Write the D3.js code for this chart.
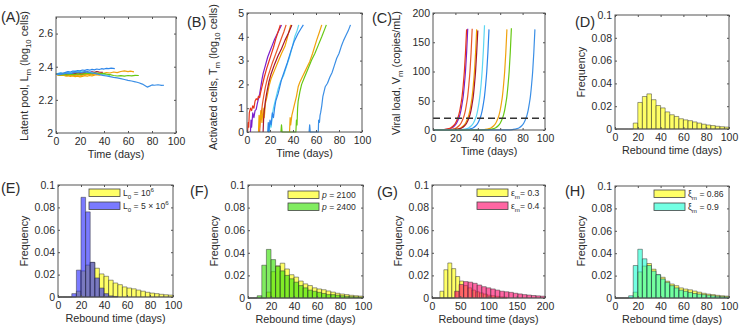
<!DOCTYPE html>
<html>
  <head>
    <meta charset="utf-8">
    <title>Rebound simulations</title>
    <script src="https://cdn.jsdelivr.net/npm/d3@7"></script>
    <style>
      body { margin: 0; background: #fff; }
      svg { font-family: "Liberation Sans", Arial, Helvetica, sans-serif; fill: #2b2b2b; }
      .tick text { font-size: 10.5px; fill: #2b2b2b; }
      .tick line { stroke: #555; }
      .title { font-size: 10.8px; }
      .panelLabel { font-size: 14.5px; }
      .legend text { font-size: 8.6px; }
    </style>
  </head>
  <body>
    <svg id="chart" width="740" height="326"></svg>

    <script>
      // ---- data: ten simulated runs, same order in (A), (B) and (C) ----
      runColors = ["#7b1fcc", "#e6361a", "#e8582a", "#f2a400", "#a5152e",
                   "#5cd6f2", "#2d86ea", "#f0a20c", "#67c814", "#3b8fe6"];

      // (A) latent pool, log10 cells  [day, value]
      latentRuns = [
        [[0,2.355],[2,2.357],[4,2.352],[6,2.356],[8,2.358],[10,2.354],[12,2.359],[14,2.362],[16,2.358],[18,2.363],[20,2.366],[22,2.361],[24,2.367],[26,2.37],[28,2.366],[30,2.368]],
        [[0,2.355],[2,2.351],[4,2.354],[6,2.349],[8,2.352],[10,2.347],[12,2.351],[14,2.348],[16,2.353],[18,2.35],[20,2.355],[22,2.352],[24,2.358],[26,2.356],[29,2.36]],
        [[0,2.355],[2,2.358],[4,2.353],[6,2.349],[8,2.352],[10,2.35],[12,2.354],[14,2.357],[16,2.353],[18,2.356],[20,2.352],[22,2.357],[24,2.361],[26,2.358],[28,2.362],[30,2.36],[32,2.364],[34,2.362]],
        [[0,2.355],[2,2.35],[4,2.347],[6,2.349],[8,2.344],[10,2.346],[12,2.341],[14,2.344],[16,2.34],[18,2.343],[20,2.339],[22,2.342],[24,2.346],[26,2.343],[28,2.347],[30,2.344],[32,2.349],[34,2.352],[36,2.349],[38,2.353]],
        [[0,2.355],[2,2.359],[4,2.356],[6,2.36],[8,2.357],[10,2.361],[12,2.358],[14,2.362],[16,2.36],[18,2.364],[20,2.361],[22,2.366],[24,2.363],[26,2.367],[28,2.365],[30,2.369],[32,2.366],[34,2.37],[36,2.367],[39,2.366]],
        [[0,2.355],[2,2.36],[4,2.363],[6,2.359],[8,2.365],[10,2.368],[12,2.364],[14,2.37],[16,2.373],[18,2.369],[20,2.372],[22,2.368],[24,2.371],[26,2.366],[28,2.369],[30,2.364],[32,2.36],[34,2.362],[36,2.356],[38,2.352],[40,2.355],[42,2.349],[45,2.347]],
        [[0,2.355],[2,2.358],[4,2.362],[6,2.36],[8,2.366],[10,2.37],[12,2.368],[14,2.374],[16,2.372],[18,2.377],[20,2.375],[22,2.38],[24,2.378],[26,2.382],[28,2.379],[30,2.384],[32,2.381],[34,2.386],[36,2.383],[38,2.388],[40,2.386],[42,2.39],[44,2.388],[46,2.391],[49,2.389]],
        [[0,2.355],[3,2.348],[6,2.351],[9,2.345],[12,2.349],[15,2.346],[18,2.351],[21,2.347],[24,2.352],[27,2.355],[30,2.351],[33,2.357],[36,2.361],[39,2.358],[42,2.365],[45,2.362],[48,2.368],[51,2.364],[54,2.371],[57,2.375],[60,2.37],[62,2.373],[65,2.369]],
        [[0,2.355],[3,2.351],[6,2.354],[9,2.35],[12,2.355],[15,2.352],[18,2.357],[21,2.354],[24,2.358],[27,2.361],[30,2.358],[33,2.362],[36,2.357],[39,2.36],[42,2.355],[45,2.352],[48,2.347],[51,2.344],[54,2.346],[57,2.343],[60,2.347],[63,2.345],[66,2.348],[69,2.347]],
        [[0,2.355],[3,2.352],[6,2.357],[9,2.361],[12,2.358],[15,2.364],[18,2.368],[21,2.365],[24,2.37],[27,2.366],[30,2.362],[33,2.358],[36,2.353],[39,2.348],[42,2.344],[45,2.34],[48,2.336],[51,2.333],[54,2.328],[57,2.323],[60,2.318],[63,2.314],[66,2.309],[69,2.303],[72,2.295],[74,2.286],[76,2.277],[78,2.283],[80,2.29],[82,2.288],[85,2.291],[88,2.287],[90,2.288]]
      ];

      // (B) activated cells, log10 cells  [day, value]
      activatedRuns = [
        [[3,0],[3.5,0.5],[4,0.2],[5,0.8],[6,0.6],[7,0.9],[8,0.95],[9,1.2],[10,1.4],[11,1.6],[12,1.9],[13,2.2],[14,2.45],[16,2.8],[18,3.15],[20,3.4],[22,3.65],[24,3.9],[26,4.1],[28,4.3],[30,4.5]],
        [[0.5,0],[1,0.4],[1.5,0.2],[2,0.8],[3,1.0],[4,0.9],[5,1.1],[6,1.0],[7,1.3],[8,1.4],[9,1.35],[10,1.5],[11,1.45],[12,1.7],[13,1.9],[15,2.3],[17,2.65],[19,2.95],[21,3.25],[23,3.55],[25,3.9],[27,4.2],[29,4.5]],
        [[11,0],[11.5,0.5],[12.5,0.8],[13.5,1.2],[14.5,1.5],[16,1.9],[18,2.3],[20,2.6],[22,2.9],[24,3.15],[27,3.55],[30,3.95],[32,4.2],[34,4.5]],
        [[10,0],[10.5,0.7],[11,0.2],[12,0.9],[13,0.4],[14,1.0],[15,0.6],[16,1.2],[17.5,1.5],[19,1.9],[21,2.25],[24,2.6],[27,2.95],[30,3.3],[33,3.6],[35,3.95],[38,4.5]],
        [[14,0],[14.5,0.6],[15,0.9],[16,1.3],[17,1.6],[19,2.1],[21,2.45],[24,2.85],[27,3.2],[30,3.5],[33,3.85],[36,4.15],[39,4.5]],
        [[19.5,0],[20,0.4],[21,0.2],[22,0.7],[23,1.0],[25,1.4],[27,1.8],[29,2.1],[32,2.4],[35,2.85],[37,3.15],[39.5,3.6],[41.5,4.0],[43.5,4.25],[45,4.5]],
        [[18,0],[18.5,0.4],[19,0],[20,0.5],[21,0.3],[22,0.8],[23,0.6],[24,1.0],[25,1.3],[27,1.6],[28.5,1.9],[30,2.2],[32.5,2.55],[35,2.9],[38.5,3.45],[41,3.8],[44.5,4.15],[47,4.35],[49,4.5]],
        [[37,0],[37.5,0.6],[38,0.3],[39,0.7],[40,0.9],[41.5,1.2],[43,1.5],[44.5,1.9],[46,2.1],[48.5,2.35],[51,2.6],[54.5,2.95],[57,3.3],[60.5,3.85],[63,4.2],[65,4.5]],
        [[29.5,0],[30,0.3],[30.5,0],[42.5,0],[43,0.5],[43.5,0.3],[44,1.0],[44.5,1.3],[46,1.7],[47.5,2.0],[50,2.3],[53,2.65],[56,3.0],[59,3.3],[62,3.65],[65,4.0],[67,4.25],[69,4.5]],
        [[54,0],[54.5,0.3],[55,0],[62,0],[62.3,0.5],[63,0.4],[63.5,0.7],[64,0.8],[65,1.1],[66,1.5],[67,1.7],[68,1.9],[70,2.05],[72,2.3],[74,2.5],[76,2.8],[78,3.1],[80,3.3],[82,3.6],[84,3.85],[86,4.05],[88,4.25],[90,4.5]]
      ];

      // (C) viral load, copies/mL  [day, value]
      viralRuns = [
        [[0,0],[6,0.1],[11,0.8],[15,2.3],[17,3.9],[19,6.8],[21,11.6],[23,20],[24,26],[25,34],[26,45],[27,58],[28,77],[29,100],[30,132],[31,173]],
        [[0,0],[5,0.1],[10,0.8],[14,2.3],[16,3.9],[18,6.8],[20,11.6],[22,20],[23,26],[24,34],[25,45],[26,58],[27,77],[28,100],[29,132],[30,172]],
        [[0,0],[10,0.1],[15,0.8],[19,2.3],[21,3.9],[23,6.8],[25,11.6],[27,20],[28,26],[29,34],[30,45],[31,58],[32,77],[33,100],[34,132],[35,173]],
        [[0,0],[14,0.1],[19,0.8],[23,2.3],[25,3.9],[27,6.8],[29,11.6],[31,20],[32,26],[33,34],[34,45],[35,58],[36,77],[37,100],[38,132],[39,172]],
        [[0,0],[15,0.1],[20,0.8],[24,2.3],[26,3.9],[28,6.8],[30,11.6],[32,20],[33,26],[34,34],[35,45],[36,58],[37,77],[38,100],[39,132],[40,170]],
        [[0,0],[21,0.1],[26,0.8],[30,2.3],[32,3.9],[34,6.8],[36,11.6],[38,20],[39,26],[40,35],[41,46],[42,60],[43,79],[44,104],[45,137],[46,179]],
        [[0,0],[25,0.1],[30,0.8],[34,2.3],[36,3.9],[38,6.8],[40,11.6],[42,20],[43,26],[44,34],[45,45],[46,58],[47,77],[48,100],[49,132],[50,172]],
        [[0,0],[41,0.1],[46,0.8],[50,2.3],[52,3.9],[54,6.8],[56,11.6],[58,20],[59,26],[60,34],[61,45],[62,58],[63,77],[64,100],[65,132],[66,172]],
        [[0,0],[45,0.1],[50,0.8],[54,2.3],[56,3.9],[58,6.8],[60,11.6],[62,20],[63,26],[64,34],[65,45],[66,58],[67,77],[68,100],[69,133],[70,174]],
        [[0,0],[66,0.1],[71,0.8],[75,2.3],[77,3.9],[79,6.8],[81,11.6],[83,20],[84,26],[85,34],[86,45],[87,58],[88,77],[89,100],[90,132],[91,172]]
      ];
      detectionLimit = 20;

      // ---- data: rebound time histograms (bin start in days, frequency) ----
      baseBins = [0,4,8,12,16,20,24,28,32,36,40,44,48,52,56,60,64,68,72,76,80,84,88,92,96];
      baseFreq = [0,0,0,0,0.0052,0.0233,0.0285,0.0308,0.0257,0.0206,0.0185,0.0150,0.0125,0.0110,0.0090,0.0080,0.0073,0.0062,0.0052,0.0042,0.0035,0.0030,0.0024,0.0020,0.0017];

      highL0Bins = [0,4,8,12,16,20,24,28,32,36,40,44,48];
      highL0Freq = [0,0,0,0.003,0.024,0.089,0.076,0.031,0.017,0.008,0.003,0.001,0.0005];

      highPBins = [0,4,8,12,16,20,24,28,32,36,40,44,48,52,56,60,64,68,72,76,80,84,88,92,96];
      highPFreq = [0,0,0.002,0.029,0.043,0.034,0.028,0.024,0.020,0.017,0.014,0.011,0.009,0.007,0.006,0.005,0.004,0.003,0.003,0.0025,0.002,0.0015,0.0012,0.001,0.0008];

      eps03Bins = [0,7,14,21,28,35,42,49,56,63,70,77,84,91,98,105,112,119,126];
      eps03Freq = [0,0,0.006,0.025,0.031,0.026,0.019,0.015,0.011,0.009,0.007,0.0055,0.0045,0.0035,0.0025,0.002,0.0015,0.001,0.0008];

      eps04Bins = [0,8,16,24,32,40,48,56,64,72,80,88,96,104,112,120,128,136,144,152,160,168,176,184,192];
      eps04Freq = [0,0,0,0,0,0.006,0.012,0.0145,0.014,0.013,0.0115,0.010,0.009,0.008,0.007,0.006,0.0055,0.005,0.0042,0.0036,0.003,0.0026,0.0022,0.0019,0.0016];

      xi09Bins = [0,4,8,12,16,20,24,28,32,36,40,44,48,52,56,60,64,68,72,76,80,84,88,92,96];
      xi09Freq = [0,0,0,0.002,0.029,0.0435,0.035,0.029,0.024,0.021,0.017,0.014,0.011,0.009,0.007,0.006,0.005,0.004,0.0035,0.003,0.0025,0.002,0.0015,0.0012,0.001];

      // ---- tick labels ----
      timeTicks = [0, 20, 40, 60, 80, 100];
      longTimeTicks = [0, 50, 100, 150, 200];
      latentTicks = [2, 2.2, 2.4, 2.6];
      activatedTicks = [0, 1, 2, 3, 4, 5];
      viralTicks = [0, 50, 100, 150, 200];
      freqTicks = [0, 0.02, 0.04, 0.06, 0.08, 0.1];

      // ---- styles ----
      yellow = { fill: "#ffff00", opacity: 0.6 };
      blue = { fill: "#1a1aff", opacity: 0.58 };
      green = { fill: "#33e000", opacity: 0.62 };
      pink = { fill: "#ff0066", opacity: 0.6 };
      aqua = { fill: "#00ffcc", opacity: 0.55 };

      chart = d3.select("#chart");

      // text with sub/superscripts: parts = [[text, kind], ...]
      function rich(text, parts, size) {
        let shift = 0;
        parts.forEach(function(p) {
          let kind = p[1];
          let target = kind === "sub" ? 0.3 * size : kind === "sup" ? -0.42 * size : 0;
          let t = text.append("tspan").text(p[0]).attr("dy", target - shift);
          shift = target;
          if (kind === "sub" || kind === "sup") t.attr("font-size", size * 0.72);
          if (kind === "it") t.attr("font-style", "italic");
        });
      }

      function frame(p) {
        let l = p.box[0], t = p.box[1], r = p.box[2], b = p.box[3];
        let x = d3.scaleLinear().domain(p.xDomain).range([l, r]);
        let y = d3.scaleLinear().domain(p.yDomain).range([b, t]);
        let g = chart.append("g");
        let data = g.append("g");

        let axes = g.append("g");
        axes.append("g").attr("transform", "translate(0," + b + ")")
          .call(d3.axisBottom(x).tickValues(p.xTicks).tickSize(-2).tickPadding(5).tickFormat(function(d) { return d; }));
        axes.append("g").attr("transform", "translate(" + l + ",0)")
          .call(d3.axisLeft(y).tickValues(p.yTicks).tickSize(-2).tickPadding(3).tickFormat(function(d) { return d; }));
        axes.append("g").attr("transform", "translate(0," + t + ")")
          .call(d3.axisTop(x).tickValues(p.xTicks).tickSize(-2).tickFormat(""));
        axes.append("g").attr("transform", "translate(" + r + ",0)")
          .call(d3.axisRight(y).tickValues(p.yTicks).tickSize(-2).tickFormat(""));
        axes.selectAll("g").attr("font-size", null).attr("font-family", null);
        axes.selectAll(".domain").remove();
        axes.append("rect")
          .attr("x", l).attr("y", t).attr("width", r - l).attr("height", b - t)
          .attr("fill", "none").attr("stroke", "#555").attr("stroke-width", 1);

        // titles
        g.append("text").attr("class", "title")
          .attr("x", (l + r) / 2).attr("y", b + 21).attr("dy", "0.35em")
          .attr("text-anchor", "middle").text(p.xTitle);
        let yt = g.append("text").attr("class", "title")
          .attr("transform", "translate(" + p.yTitlePos[0] + "," + p.yTitlePos[1] + ") rotate(-90)")
          .attr("dy", "0.35em").attr("text-anchor", "middle");
        rich(yt, p.yTitle, 10.8);
        g.append("text").attr("class", "panelLabel")
          .attr("x", p.labelPos[0]).attr("y", p.labelPos[1] + 5).text(p.label);

        return { data: data, x: x, y: y, g: g };
      }

      function linePanel(p, runs, curve) {
        let f = frame(p);
        let line = d3.line()
          .x(function(d) { return f.x(d[0]); })
          .y(function(d) { return f.y(d[1]); })
          .curve(curve);
        f.data.selectAll(".run")
          .data(runs)
        .enter().append("path")
          .attr("class", "run")
          .attr("d", line)
          .attr("fill", "none")
          .attr("stroke", function(d, i) { return runColors[i]; })
          .attr("stroke-width", 1.2)
          .attr("stroke-linejoin", "round");
        return f;
      }

      function histPanel(p, series) {
        let f = frame(p);
        series.forEach(function(s) {
          let bars = s.bins.map(function(b, i) { return { x0: b, x1: b + s.width, f: s.freq[i] }; });
          f.data.append("g").selectAll("path")
            .data(bars)
          .enter().append("path")
            .attr("d", function(d) {
              let x0 = f.x(d.x0), x1 = f.x(d.x1), y0 = f.y(0), y1 = f.y(d.f);
              return "M" + x0 + "," + y0 + "V" + y1 + "H" + x1 + "V" + y0 + "Z";
            })
            .attr("fill", s.style.fill)
            .attr("fill-opacity", s.style.opacity)
            .attr("stroke", "#333")
            .attr("stroke-opacity", 0.7)
            .attr("stroke-width", 0.7);
        });
        if (p.legend) {
          let lg = f.g.append("g").attr("class", "legend");
          series.forEach(function(s, i) {
            let top = p.legend.y[i];
            lg.append("rect")
              .attr("x", p.legend.x).attr("y", top).attr("width", 31).attr("height", 7.5)
              .attr("fill", s.style.fill).attr("fill-opacity", s.style.opacity)
              .attr("stroke", "#444").attr("stroke-width", 0.8);
            let t = lg.append("text").attr("x", p.legend.x + 34).attr("y", top + 7);
            rich(t, s.label, 8.6);
          });
        }
        return f;
      }

      // (A)
      linePanel({ box: [56, 17, 176, 133], xDomain: [0, 100], yDomain: [2, 2.7],
        xTicks: timeTicks, yTicks: latentTicks, xTitle: "Time (days)",
        yTitle: [["Latent pool, L"], ["m", "sub"], [" (log"], ["10", "sub"], [" cells)"]],
        yTitlePos: [28, 76], label: "(A)", labelPos: [1, 17] }, latentRuns, d3.curveLinear);

      // (B)
      linePanel({ box: [247, 13, 362, 132], xDomain: [0, 100], yDomain: [0, 5],
        xTicks: timeTicks, yTicks: activatedTicks, xTitle: "Time (days)",
        yTitle: [["Activated cells, T"], ["m", "sub"], [" (log"], ["10", "sub"], [" cells)"]],
        yTitlePos: [217, 77], label: "(B)", labelPos: [187, 22] }, activatedRuns, d3.curveLinear);

      // (C)
      cPanel = linePanel({ box: [433, 13, 545, 130], xDomain: [0, 100], yDomain: [0, 200],
        xTicks: timeTicks, yTicks: viralTicks, xTitle: "Time (days)",
        yTitle: [["Viral load, V"], ["m", "sub"], [" (copies/mL)"]],
        yTitlePos: [400, 73], label: "(C)", labelPos: [372, 18] }, viralRuns, d3.curveMonotoneX);
      cPanel.data.append("line")
        .attr("x1", cPanel.x(0)).attr("x2", cPanel.x(100))
        .attr("y1", cPanel.y(detectionLimit)).attr("y2", cPanel.y(detectionLimit))
        .attr("stroke", "#333").attr("stroke-width", 1.4).attr("stroke-dasharray", "7,4");

      // (D)
      histPanel({ box: [615, 15, 729, 129], xDomain: [0, 100], yDomain: [0, 0.1],
        xTicks: timeTicks, yTicks: freqTicks, xTitle: "Rebound time (days)",
        yTitle: [["Frequency"]], yTitlePos: [585, 72], label: "(D)", labelPos: [575, 22] },
        [{ bins: baseBins, freq: baseFreq, width: 4, style: yellow }]);

      // (E)
      histPanel({ box: [58, 185, 173, 297], xDomain: [0, 100], yDomain: [0, 0.1],
        xTicks: timeTicks, yTicks: freqTicks, xTitle: "Rebound time (days)",
        yTitle: [["Frequency"]], yTitlePos: [28, 241], label: "(E)", labelPos: [1, 188],
        legend: { x: 89, y: [189, 202] } },
        [{ bins: baseBins, freq: baseFreq, width: 4, style: yellow,
           label: [["L"], ["0", "sub"], [" = 10"], ["6", "sup"]] },
         { bins: highL0Bins, freq: highL0Freq, width: 4, style: blue,
           label: [["L"], ["0", "sub"], [" = 5 \u00d7 10"], ["6", "sup"]] }]);

      // (F)
      histPanel({ box: [248, 185, 363, 298], xDomain: [0, 100], yDomain: [0, 0.1],
        xTicks: timeTicks, yTicks: freqTicks, xTitle: "Rebound time (days)",
        yTitle: [["Frequency"]], yTitlePos: [218, 241], label: "(F)", labelPos: [190, 191],
        legend: { x: 288, y: [191, 203] } },
        [{ bins: baseBins, freq: baseFreq, width: 4, style: yellow, label: [["p", "it"], [" = 2100"]] },
         { bins: highPBins, freq: highPFreq, width: 4, style: green, label: [["p", "it"], [" = 2400"]] }]);

      // (G)
      histPanel({ box: [432, 185, 545, 298], xDomain: [0, 200], yDomain: [0, 0.1],
        xTicks: longTimeTicks, yTicks: freqTicks, xTitle: "Rebound time (days)",
        yTitle: [["Frequency"]], yTitlePos: [402, 241], label: "(G)", labelPos: [377, 192],
        legend: { x: 477, y: [189, 202] } },
        [{ bins: eps03Bins, freq: eps03Freq, width: 7, style: yellow, label: [["\u03b5"], ["m", "sub"], ["= 0.3"]] },
         { bins: eps04Bins, freq: eps04Freq, width: 8, style: pink, label: [["\u03b5"], ["m", "sub"], ["= 0.4"]] }]);

      // (H)
      histPanel({ box: [615, 186, 729, 298], xDomain: [0, 100], yDomain: [0, 0.1],
        xTicks: timeTicks, yTicks: freqTicks, xTitle: "Rebound time (days)",
        yTitle: [["Frequency"]], yTitlePos: [585, 241], label: "(H)", labelPos: [565, 191],
        legend: { x: 654, y: [190, 203] } },
        [{ bins: baseBins, freq: baseFreq, width: 4, style: yellow, label: [["\u03be"], ["m", "sub"], [" = 0.86"]] },
         { bins: xi09Bins, freq: xi09Freq, width: 4, style: aqua, label: [["\u03be"], ["m", "sub"], [" = 0.9"]] }]);
    </script>
  </body>
</html>
